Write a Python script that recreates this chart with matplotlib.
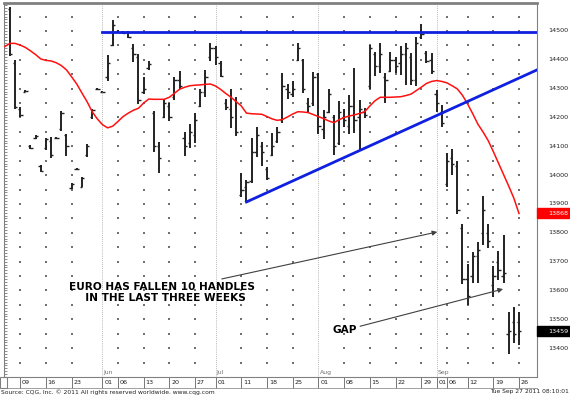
import matplotlib
matplotlib.use('Agg')
import matplotlib.pyplot as plt
import matplotlib.transforms as mtransforms
from matplotlib.patches import Rectangle

# daily bars, index 0 = 2011-05-05 ... 99 = 2011-09-26 (May 30, Jul 4, Sep 5 skipped)
highs = [14583, 14399, 14236, 14295, 14104, 14139, 14035, 14129, 14132, 14132,
         14222, 14143, 13973, 14025, 13993, 14108, 14229, 14302, 14292, 14417,
         14538, 14503, 14500, 14500, 14455, 14420, 14340, 14396, 14222, 14115,
         14264, 14250, 14340, 14361, 14150, 14177, 14215, 14299, 14365, 14458,
         14448, 14396, 14264, 14299, 14271, 14007, 13983, 14129, 14167, 14115,
         14028, 14146, 14167, 14354, 14316, 14327, 14458, 14403, 14268, 14358,
         14354, 14226, 14299, 14209, 14257, 14229, 14278, 14372, 14261, 14233,
         14451, 14427, 14458, 14354, 14427, 14410, 14448, 14458, 14424, 14479,
         14524, 14431, 14424, 14295, 14243, 14077, 14091, 14049, 13830, 13692,
         13733, 13768, 13927, 13830, 13685, 13737, 13792, 13525, 13542, 13525]
lows = [14413, 14229, 14202, 14288, 14091, 14125, 14011, 14087, 14059, 14125,
        14153, 14066, 13952, 14018, 13959, 14063, 14195, 14295, 14288, 14327,
        14448, 14493, 14490, 14476, 14392, 14247, 14281, 14365, 14080, 14007,
        14198, 14188, 14261, 14299, 14066, 14094, 14111, 14236, 14271, 14396,
        14382, 14340, 14226, 14163, 14136, 13924, 13907, 13973, 14063, 14032,
        13983, 14066, 14111, 14181, 14264, 14271, 14396, 14285, 14216, 14240,
        14143, 14125, 14216, 14070, 14104, 14167, 14143, 14146, 14087, 14198,
        14299, 14344, 14354, 14250, 14358, 14354, 14347, 14313, 14313, 14309,
        14472, 14389, 14351, 14219, 14167, 13959, 14000, 13865, 13622, 13549,
        13626, 13626, 13757, 13747, 13577, 13636, 13626, 13379, 13417, 13410]
opens = [14575, 14390, 14230, 14290, 14100, 14128, 14030, 14095, 14120, 14128,
         14160, 14140, 13955, 14020, 13960, 14070, 14200, 14298, 14290, 14340,
         14450, 14500, 14495, 14495, 14440, 14410, 14290, 14370, 14215, 14100,
         14200, 14240, 14270, 14330, 14130, 14110, 14140, 14240, 14290, 14410,
         14440, 14390, 14250, 14230, 14260, 13930, 13960, 13980, 14080, 14100,
         14020, 14070, 14120, 14190, 14300, 14280, 14400, 14400, 14250, 14250,
         14350, 14160, 14220, 14200, 14110, 14200, 14170, 14240, 14200, 14220,
         14310, 14420, 14380, 14340, 14360, 14400, 14390, 14420, 14410, 14330,
         14480, 14425, 14400, 14280, 14220, 13970, 14060, 14030, 13815, 13640,
         13650, 13720, 13800, 13800, 13620, 13700, 13650, 13450, 13490, 13490]
closes = [14420, 14235, 14210, 14292, 14095, 14135, 14015, 14125, 14070, 14130,
          14215, 14100, 13970, 14022, 13990, 14100, 14225, 14300, 14290, 14390,
          14520, 14495, 14492, 14480, 14420, 14260, 14300, 14385, 14100, 14060,
          14250, 14200, 14330, 14310, 14100, 14150, 14190, 14290, 14340, 14440,
          14410, 14345, 14235, 14200, 14150, 13950, 13975, 14080, 14140, 14080,
          13990, 14100, 14150, 14310, 14290, 14300, 14440, 14300, 14240, 14340,
          14170, 14200, 14280, 14100, 14220, 14190, 14240, 14190, 14230, 14210,
          14440, 14380, 14420, 14330, 14400, 14380, 14420, 14440, 14330, 14460,
          14490, 14395, 14360, 14250, 14180, 14050, 14040, 13880, 13640, 13580,
          13720, 13740, 13880, 13770, 13650, 13670, 13660, 13460, 13450, 13459]

# red moving average, bars -1 .. 99
ma_vals = [14446, 14457, 14457, 14451, 14443, 14431, 14418, 14403, 14398, 14396,
           14390, 14380, 14365, 14341, 14316, 14285, 14255, 14220, 14195, 14175,
           14164, 14170, 14186, 14203, 14215, 14225, 14232, 14250, 14264, 14263,
           14263, 14263, 14270, 14284, 14298, 14305, 14310, 14312, 14313, 14315,
           14316, 14309, 14297, 14283, 14270, 14255, 14240, 14215, 14213, 14212,
           14211, 14203, 14195, 14190, 14193, 14202, 14212, 14220, 14219, 14217,
           14210, 14203, 14196, 14188, 14182, 14192, 14200, 14205, 14209, 14214,
           14220, 14240, 14258, 14270, 14270, 14270, 14271, 14272, 14276, 14281,
           14293, 14305, 14318, 14325, 14328, 14325, 14320, 14310, 14299, 14277,
           14247, 14213, 14177, 14150, 14120, 14082, 14042, 14002, 13962, 13920,
           13867]
ma_x = list(range(-1, 100))

resist_level = 14497
trend_x = [46, 102.5]
trend_y = [13907, 14365]

week_pos = [2, 7, 12, 18, 21, 26, 31, 36, 40, 45, 50, 55, 60, 65, 70, 75, 80, 83, 85, 89, 94, 99]
week_lab = ['09', '16', '23', '01', '06', '13', '20', '27', '01', '11', '18', '25',
            '01', '08', '15', '22', '29', '01', '06', '12', '19', '26']
month_pos = [18, 40, 60, 83]
month_lab = ['Jun', 'Jul', 'Aug', 'Sep']
price_ticks = list(range(13400, 14501, 100))
grid_levels = list(range(13350, 14551, 50))

last_ma = 13868
last_close = 13459

W, H = 570, 396
fig = plt.figure(figsize=(W / 100, H / 100), dpi=100)
ax = fig.add_axes([4 / W, 19 / H, 533 / W, 374 / H])
ax.set_xlim(-1.15, 102.5)
ax.set_ylim(13300, 14597)
ax.set_xticks([])
ax.set_yticks(list(range(13300, 14600, 10)))
ax.tick_params(axis='y', direction='in', length=2, width=0.5, color='#606060',
               labelleft=False)
for s in ax.spines.values():
    s.set_color('#808080')
    s.set_linewidth(0.8)
ax.spines['top'].set_linewidth(2)

# grid: sparse dots at weekly ticks, dotted lines at month starts
gx = [p for p in week_pos if p not in month_pos]
for lv in grid_levels:
    ax.scatter(gx, [lv] * len(gx), s=0.6, color='#707070', marker='s', lw=0, zorder=1)
for p in month_pos:
    ax.axvline(p, color='#a0a0a0', lw=0.6, ls=(0, (1, 1.5)), zorder=1)

# OHLC bars
xs = list(range(len(highs)))
ax.vlines(xs, lows, highs, color='#222222', lw=1.4, zorder=3)
ax.hlines(opens, [x - 0.45 for x in xs], xs, color='#222222', lw=1.0, zorder=3)
ax.hlines(closes, xs, [x + 0.45 for x in xs], color='#222222', lw=1.0, zorder=3)

ax.plot(ma_x, ma_vals, color='#ff1010', lw=1.1, zorder=4)
ax.plot([18, 102.5], [resist_level, resist_level], color='#1020e0', lw=2, zorder=5)
ax.plot(trend_x, trend_y, color='#1020e0', lw=2, zorder=5)

# annotations
txt_font = dict(family='DejaVu Sans', fontsize=7.6, fontweight='bold', color='black')
ax.text(29.6, 13594, 'EURO HAS FALLEN 10 HANDLES\n  IN THE LAST THREE WEEKS',
        ha='center', va='center', linespacing=1.15, zorder=6, **txt_font)
ax.text(62.8, 13462, 'GAP', ha='left', va='center', zorder=6, **txt_font)
arrow = dict(arrowstyle='-|>', color='#404040', lw=0.8, mutation_scale=7,
             shrinkA=0, shrinkB=0)
ax.annotate('', xy=(83.1, 13803), xytext=(41.2, 13640), arrowprops=arrow, zorder=6)
ax.annotate('', xy=(95.9, 13605), xytext=(68.1, 13476), arrowprops=arrow, zorder=6)

# right price scale
ry = mtransforms.blended_transform_factory(ax.transAxes, ax.transData)
xr = (548 - 4) / 533
for p in price_ticks:
    ax.text(xr, p, str(p), transform=ry, fontsize=4.6, ha='left', va='center',
            color='#202020', clip_on=False)
tag_w = (W - 4) / 533 - 1.0
for val, col in [(last_ma, '#ff0000'), (last_close, '#000000')]:
    ax.add_patch(Rectangle((1.0, val - 17), tag_w, 34, transform=ry, color=col,
                           clip_on=False, zorder=7))
    ax.text(xr, val, str(val), transform=ry, fontsize=4.6, ha='left', va='center',
            color='white', clip_on=False, zorder=8)

# date strip
bx = mtransforms.blended_transform_factory(ax.transData, ax.transAxes)
strip = -11 / 374
for p, lab in zip(week_pos, week_lab):
    ax.plot([p, p], [0, strip], transform=bx, color='#606060', lw=0.6, clip_on=False)
    ax.text(p + 0.35, strip / 2, lab, transform=bx, fontsize=4.6, ha='left',
            va='center', color='#202020', clip_on=False)
ax.plot([-1.15, 102.5], [strip, strip], transform=bx, color='#909090', lw=0.6, clip_on=False)
for p, lab in zip(month_pos, month_lab):
    ax.text(p + 0.2, 0.012, lab, transform=bx, fontsize=4.4, ha='left', va='center',
            color='#707070', zorder=6)

fig.patches.append(Rectangle((0, 8 / H), 7 / W, 11 / H, transform=fig.transFigure,
                             fill=False, edgecolor='#808080', lw=0.8))
fig.text(1 / W, 1 - 392 / H, 'Source: CQG, Inc. \u00a9 2011 All rights reserved worldwide. www.cqg.com',
         fontsize=4.3, ha='left', va='center', color='#202020')
fig.text(1 - 1 / W, 1 - 392 / H, 'Tue Sep 27 2011 08:10:01', fontsize=4.3,
         ha='right', va='center', color='#202020')

fig.savefig('out.png', dpi=100)
